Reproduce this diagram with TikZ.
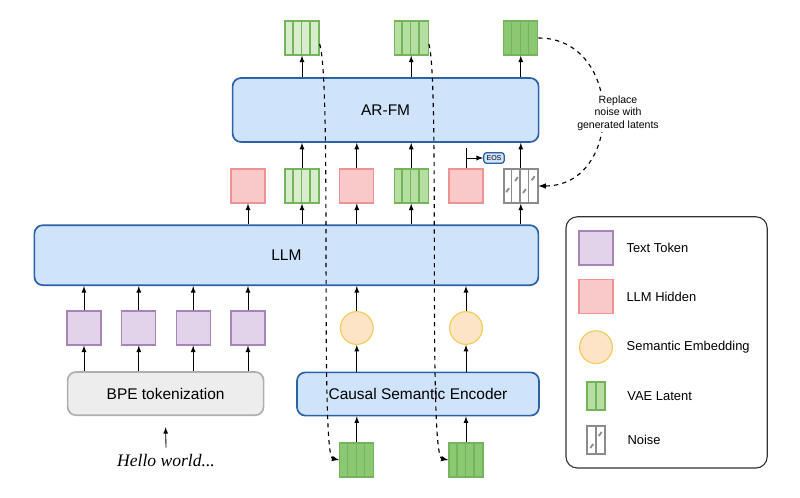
\documentclass[tikz,border=0pt]{standalone}
\usepackage{fontspec}
\setmainfont{Liberation Sans}
\newfontfamily\serifit{Liberation Serif}
\usetikzlibrary{positioning}
\definecolor{blueF}{HTML}{CFE3FB}
\definecolor{blueD}{HTML}{2A62A8}
\definecolor{pinkF}{HTML}{F9C9C9}
\definecolor{pinkD}{HTML}{EC9494}
\definecolor{purF}{HTML}{E2D3EA}
\definecolor{purD}{HTML}{A785B8}
\definecolor{yelF}{HTML}{FDE4C6}
\definecolor{yelD}{HTML}{F2CC55}
\definecolor{grnD}{HTML}{74B45A}
\definecolor{grnA}{HTML}{D8EDCD}
\definecolor{grnB}{HTML}{B6DDA2}
\definecolor{grnC}{HTML}{8CC872}
\definecolor{grayF}{HTML}{EDEDED}
\definecolor{grayD}{HTML}{8C8C8C}
\tikzset{
  big box/.style={draw=blueD, fill=blueF, rounded corners=6pt, line width=1.2pt, font=\fontsize{11}{13}\selectfont},
  hidden/.style={draw=pinkD, fill=pinkF, minimum size=0.85cm, line width=0.8pt},
  token/.style={draw=purD, fill=purF, minimum size=0.85cm, line width=0.8pt},
  sem/.style={circle, draw=yelD, fill=yelF, minimum size=0.82cm, line width=0.8pt},
  lat/.style={draw=grnD, minimum size=0.85cm, line width=0.9pt},
  up/.style={-latex, line width=0.6pt},
  flow/.style={-latex, dashed, line width=0.8pt},
}
% latent: name, position, fill
\newcommand{\latent}[3]{%
  \node[lat, fill=#3] (#1) at (#2) {};
  \foreach \k in {1,2,3}
    \draw[grnD, line width=0.9pt] ([xshift=\k*0.2125cm]#1.north west) -- ([xshift=\k*0.2125cm]#1.south west);
}
\newcommand{\noiselat}[2]{%
  \node[draw=grayD, fill=white, minimum size=0.85cm, line width=1.1pt] (#1) at (#2) {};
  \foreach \k in {1,2,3}
    \draw[grayD, line width=1.1pt] ([xshift=\k*0.2125cm]#1.north west) -- ([xshift=\k*0.2125cm]#1.south west);
  \foreach \dx/\dy in {0.08/-0.6,0.3/-0.32,0.5/-0.62,0.72/-0.3}
    \draw[grayD, line width=1.3pt] ([xshift=\dx cm, yshift=\dy cm]#1.north west) -- ++(0.07,0.1);
}
\begin{document}
\begin{tikzpicture}
\useasboundingbox (0,0) rectangle (20,-12.45);

% big blocks
\node[big box, minimum width=7.65cm, minimum height=1.6cm] (arfm) at (9.64,-2.75) {AR-FM};
\node[big box, minimum width=12.6cm, minimum height=1.5cm] (llm) at (7.16,-6.38) {LLM};
\node[draw=grayD!70, fill=grayF, rounded corners=6pt, line width=1.2pt, minimum width=4.9cm, minimum height=1.08cm, font=\fontsize{11}{13}\selectfont] (bpe) at (4.14,-9.84) {BPE tokenization};
\node[big box, minimum width=6.05cm, minimum height=1.08cm] (enc) at (10.45,-9.85) {Causal Semantic Encoder};

% outputs of AR-FM
\latent{o1}{7.55,-0.95}{grnA}
\latent{o2}{10.28,-0.95}{grnB}
\latent{o3}{13.02,-0.95}{grnC}
\foreach \n in {o1,o2,o3}
  \draw[up] (arfm.north -| \n) -- (\n);

% LLM outputs
\node[hidden] (h1) at (6.2,-4.65) {};
\latent{m1}{7.55,-4.65}{grnA}
\node[hidden] (h2) at (8.92,-4.65) {};
\latent{m2}{10.28,-4.65}{grnB}
\node[hidden] (h3) at (11.65,-4.65) {};
\noiselat{nz}{13.02,-4.65}
\foreach \n in {h1,m1,h2,m2,nz}
  \draw[up] (llm.north -| \n) -- (\n);
\foreach \n in {m1,h2,m2,nz}
  \draw[up] (\n) -- (arfm.south -| \n);
\node[draw=blueD, fill=blueF, rounded corners=2pt, line width=0.9pt, font=\fontsize{5}{5}\selectfont, inner sep=2pt] (eos) at (12.35,-3.95) {EOS};
\draw[-latex, line width=0.7pt] (11.65,-3.7) -- (11.65,-4.2) (11.65,-3.95) -- (eos.west);

% LLM inputs
\foreach \x [count=\i] in {2.1,3.47,4.83,6.2} {
  \node[token] (t\i) at (\x,-8.2) {};
  \draw[up] (bpe.north -| t\i) -- (t\i);
  \draw[up] (t\i) -- (llm.south -| t\i);
}
\node[sem] (s1) at (8.92,-8.2) {};
\node[sem] (s2) at (11.65,-8.2) {};
\foreach \n in {s1,s2} {
  \draw[up] (enc.north -| \n) -- (\n);
  \draw[up] (\n) -- (llm.south -| \n);
}

% encoder inputs
\latent{b1}{8.92,-11.5}{grnC}
\latent{b2}{11.65,-11.5}{grnC}
\foreach \n in {b1,b2}
  \draw[up] (\n) -- (enc.south -| \n);
\node[font=\serifit\itshape\fontsize{12.5}{14}\selectfont] (txt) at (4.15,-11.52) {Hello world...};
\draw[up] (txt.north) ++(0,0.05) -- (bpe.south |- 0,-10.68);

% feedback
\draw[flow] (o1.east) ++(0,-0.15) .. controls (8.3,-2) and (8.0,-11.4) .. (b1.west);
\draw[flow] (o2.east) ++(0,-0.15) .. controls (11.0,-2) and (10.7,-11.4) .. (b2.west);
\draw[flow] (o3.east) .. controls (15.6,-0.95) and (15.6,-4.65) .. (nz.east);
\node[font=\fontsize{7.5}{9}\selectfont, align=center, fill=white, inner sep=1pt] (rep) at (15.45,-2.83) {Replace\\noise with\\generated latents};

% legend
\node[draw=black!80, rounded corners=8pt, line width=0.8pt, minimum width=5.03cm, minimum height=6.28cm] (leg) at (16.665,-8.56) {};
\tikzset{every node/.append style={font=\fontsize{9.2}{11}\selectfont}}
\node[token] (lg1) at (14.9,-6.2) {};
\node[right=0.2cm of lg1] {Text Token};
\node[hidden] (lg2) at (14.9,-7.42) {};
\node[right=0.2cm of lg2] {LLM Hidden};
\node[sem] (lg3) at (14.9,-8.68) {};
\node[right=0.22cm of lg3] {Semantic Embedding};
\node[draw=grnD, fill=grnB, minimum width=0.45cm, minimum height=0.7cm, line width=0.9pt] (lg4) at (14.9,-9.9) {};
\draw[grnD, line width=0.9pt] (lg4.north) -- (lg4.south);
\node[right=0.42cm of lg4] {VAE Latent};
\node[draw=grayD, minimum width=0.45cm, minimum height=0.7cm, line width=1.1pt] (lg5) at (14.9,-11) {};
\draw[grayD, line width=1.1pt] (lg5.north) -- (lg5.south);
\draw[grayD, line width=1.3pt] (14.76,-11.2) -- ++(0.07,0.1) (14.97,-10.9) -- ++(0.07,0.1);
\node[right=0.42cm of lg5] {Noise};
\end{tikzpicture}
\end{document}
